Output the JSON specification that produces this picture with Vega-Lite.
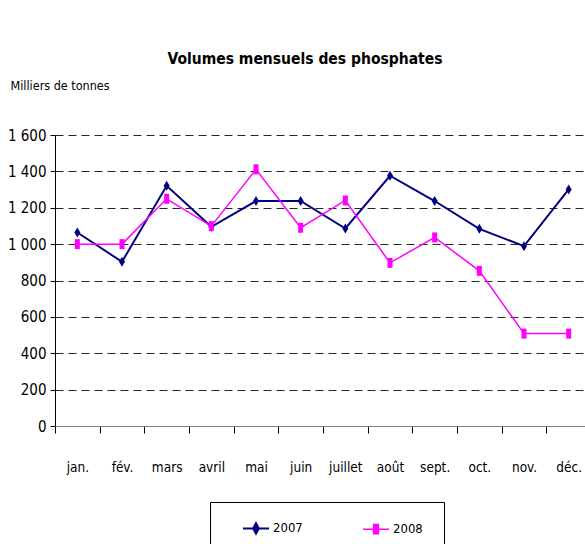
{
  "$schema": "https://vega.github.io/schema/vega-lite/v6.json",
  "width": 536,
  "height": 291,
  "autosize": {"type": "none"},
  "padding": {"left": 55, "top": 135, "right": 0, "bottom": 120},
  "background": "white",
  "config": {"view": {"stroke": null}, "font": "DejaVu Sans Condensed, Liberation Sans, sans-serif"},
  "title": {
    "text": "Volumes mensuels des  phosphates",
    "anchor": "middle",
    "frame": "group",
    "dx": -18,
    "offset": 12,
    "fontSize": 15.5,
    "fontWeight": "bold",
    "font": "DejaVu Sans Condensed, Liberation Sans, sans-serif",
    "color": "black"
  },
  "data": {
    "values": [
      {"mois": "jan.", "annee": "2007", "valeur": 1064},
      {"mois": "fév.", "annee": "2007", "valeur": 903},
      {"mois": "mars", "annee": "2007", "valeur": 1321},
      {"mois": "avril", "annee": "2007", "valeur": 1095},
      {"mois": "mai", "annee": "2007", "valeur": 1237},
      {"mois": "juin", "annee": "2007", "valeur": 1237},
      {"mois": "juillet", "annee": "2007", "valeur": 1086},
      {"mois": "août", "annee": "2007", "valeur": 1376},
      {"mois": "sept.", "annee": "2007", "valeur": 1237},
      {"mois": "oct.", "annee": "2007", "valeur": 1084},
      {"mois": "nov.", "annee": "2007", "valeur": 989},
      {"mois": "déc.", "annee": "2007", "valeur": 1301},
      {"mois": "jan.", "annee": "2008", "valeur": 1000},
      {"mois": "fév.", "annee": "2008", "valeur": 1000},
      {"mois": "mars", "annee": "2008", "valeur": 1249},
      {"mois": "avril", "annee": "2008", "valeur": 1099},
      {"mois": "mai", "annee": "2008", "valeur": 1411},
      {"mois": "juin", "annee": "2008", "valeur": 1090},
      {"mois": "juillet", "annee": "2008", "valeur": 1240},
      {"mois": "août", "annee": "2008", "valeur": 897},
      {"mois": "sept.", "annee": "2008", "valeur": 1037},
      {"mois": "oct.", "annee": "2008", "valeur": 853},
      {"mois": "nov.", "annee": "2008", "valeur": 508},
      {"mois": "déc.", "annee": "2008", "valeur": 508}
    ]
  },
  "encoding": {
    "x": {
      "field": "mois",
      "type": "ordinal",
      "sort": ["jan.", "fév.", "mars", "avril", "mai", "juin", "juillet", "août", "sept.", "oct.", "nov.", "déc."],
      "bandPosition": 0.5,
      "scale": {"type": "band", "paddingInner": 0, "paddingOuter": 0},
      "axis": {
        "title": null,
        "labelAngle": 0,
        "labelFontSize": 13.5,
        "labelColor": "black",
        "labelPadding": 27,
        "tickBand": "extent",
        "tickSize": 7,
        "tickColor": "black",
        "domainColor": "#808080",
        "grid": false,
        "zindex": 1
      }
    },
    "y": {
      "field": "valeur",
      "type": "quantitative",
      "scale": {"domain": [0, 1600], "nice": false},
      "axis": {
        "values": [0, 200, 400, 600, 800, 1000, 1200, 1400, 1600],
        "labelExpr": "replace(format(datum.value, ','), ',', ' ')",
        "labelFontSize": 15,
        "labelColor": "black",
        "labelPadding": 4,
        "tickSize": 5,
        "tickColor": "black",
        "domainColor": "#000000",
        "grid": true,
        "gridColor": "#000000",
        "gridDash": [8, 5],
        "gridOpacity": {"condition": {"test": "datum.value === 0", "value": 0}, "value": 0.85},
        "title": "Milliers de tonnes",
        "titleAngle": 0,
        "titleX": -45,
        "titleY": -50,
        "titleAlign": "left",
        "titleBaseline": "middle",
        "titleFontSize": 12.5,
        "titleFontWeight": "normal",
        "titleColor": "black",
        "titleFont": "DejaVu Sans Condensed, Liberation Sans, sans-serif"
      }
    }
  },
  "layer": [
    {
      "mark": {"type": "line"},
      "encoding": {
        "color": {
          "field": "annee",
          "type": "nominal",
          "scale": {"domain": ["2007", "2008"], "range": ["#000080", "#FF00FF"]},
          "legend": {
            "title": "\u00a0",
            "titleOrient": "right",
            "titlePadding": 9,
            "titleFontSize": 13,
            "orient": "none",
            "legendX": 155,
            "legendY": 367,
            "direction": "horizontal",
            "strokeColor": "#000000",
            "padding": 12,
            "symbolOffset": 20,
            "columnPadding": 39,
            "labelOffset": 3,
            "labelFontSize": 13,
            "labelColor": "black",
            "symbolSize": 676,
            "encode": {
              "symbols": {
                "update": {
                  "shape": {"signal": "datum.value == '2007' ? 'M-1,0H1M0,-0.4L0.22,0L0,0.4L-0.22,0Z' : 'M-1,0H1M-0.18,-0.36H0.18V0.36H-0.18Z'"},
                  "fill": {"signal": "datum.value == '2007' ? '#000080' : '#FF00FF'"},
                  "stroke": {"signal": "datum.value == '2007' ? '#000080' : '#FF00FF'"},
                  "strokeWidth": {"value": 1.5},
                  "size": {"value": 676},
                  "opacity": {"value": 1},
                  "fillOpacity": {"value": 1},
                  "strokeOpacity": {"value": 1}
                }
              }
            }
          }
        },
        "strokeWidth": {
          "field": "annee",
          "type": "nominal",
          "scale": {"domain": ["2007", "2008"], "range": [2, 1.5]},
          "legend": null
        }
      }
    },
    {
      "transform": [{"filter": "datum.annee == '2007'"}],
      "mark": {"type": "point", "filled": true, "opacity": 1, "strokeWidth": 0, "color": "#000080", "shape": "M0,-1L0.6,0L0,1L-0.6,0Z", "size": 100}
    },
    {
      "transform": [{"filter": "datum.annee == '2008'"}],
      "mark": {"type": "point", "filled": true, "opacity": 1, "strokeWidth": 0, "color": "#FF00FF", "shape": "M-0.5,-1H0.5V1H-0.5Z", "size": 100}
    }
  ]
}
